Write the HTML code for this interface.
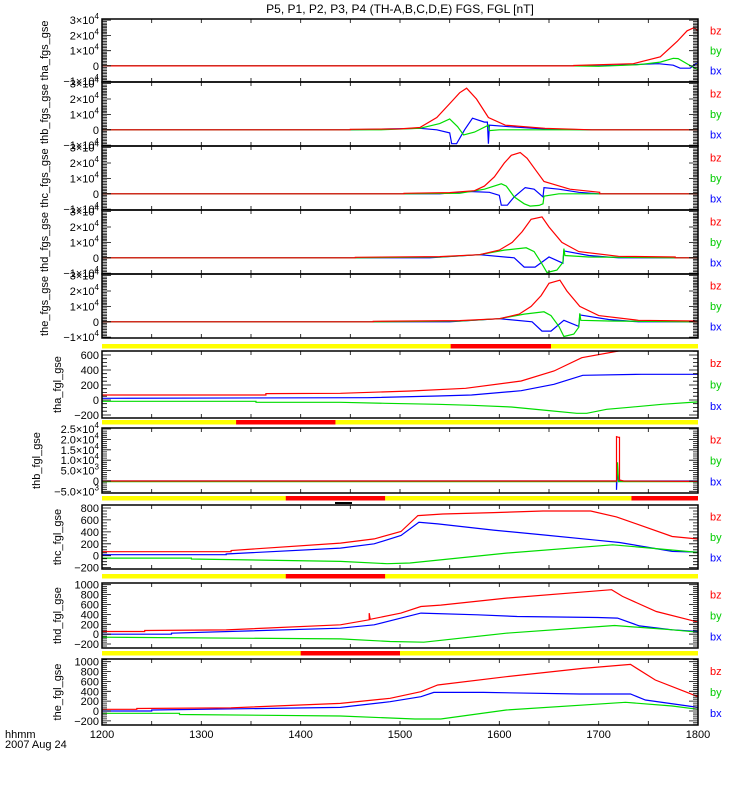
<!DOCTYPE html>
<html><head><meta charset="utf-8"><style>
body{margin:0;background:#fff;}
svg{display:block;font-family:"Liberation Sans",sans-serif;}
</style></head><body>
<svg id="chart" width="750" height="800" viewBox="0 0 750 800" xmlns="http://www.w3.org/2000/svg">
<rect width="750" height="800" fill="#fff"/>
<text x="400" y="13" font-size="12" text-anchor="middle">P5, P1, P2, P3, P4 (TH-A,B,C,D,E) FGS, FGL [nT]</text>
<text x="5" y="738" font-size="11">hhmm</text>
<text x="5" y="748" font-size="11">2007 Aug 24</text>
</svg>
<script>
// x axis
const xTickLabels = [1200, 1300, 1400, 1500, 1600, 1700, 1800];
// FGS panels (values in nT)
const thaFgsBz = [[1200,0],[1675,0],[1675,300],[1735,1500],[1762,6000],[1779,16000],[1789,23000],[1796,25000],[1800,23000]];
const thaFgsBy = [[1200,0],[1675,0],[1700,-200],[1740,800],[1762,2500],[1775,5000],[1780,4800],[1790,1000],[1800,-2500]];
const thaFgsBx = [[1200,0],[1700,0],[1720,500],[1760,1500],[1775,500],[1782,-1500],[1792,-1500],[1800,2500]];
const thbFgsBz = [[1200,0],[1450,0],[1450,300],[1500,600],[1520,1500],[1537,8000],[1553,19000],[1560,24000],[1567,27000],[1577,20000],[1589,8000],[1606,3000],[1646,1000],[1693,0],[1800,0]];
const thbFgsBy = [[1200,0],[1450,0],[1480,0],[1520,1000],[1540,4000],[1550,7000],[1558,2000],[1564,-3300],[1575,-1500],[1589,3000],[1590,-500],[1600,0],[1693,0],[1800,0]];
const thbFgsBx = [[1200,0],[1450,0],[1520,1000],[1537,0],[1550,-2000],[1552,-9000],[1557,-9000],[1565,0],[1573,7500],[1585,5000],[1588,5000],[1589,-9000],[1590,3000],[1610,2000],[1646,500],[1693,0],[1800,0]];
const thcFgsBz = [[1200,0],[1504,0],[1504,300],[1550,800],[1575,2000],[1585,5000],[1595,11000],[1605,20000],[1612,25000],[1621,26800],[1628,23000],[1637,15000],[1645,8000],[1671,3000],[1701,1000],[1701,0],[1800,0]];
const thcFgsBy = [[1200,0],[1504,0],[1560,300],[1585,3000],[1602,6500],[1607,5000],[1615,-2000],[1625,-6500],[1631,-8000],[1640,-7500],[1644,-6500],[1645,-1500],[1660,0],[1746,0],[1800,0]];
const thcFgsBx = [[1200,0],[1540,0],[1570,1500],[1590,1000],[1600,-1000],[1602,-7400],[1608,-7400],[1615,-2000],[1626,4000],[1635,3000],[1644,-2000],[1645,4000],[1660,3000],[1680,1000],[1700,0],[1800,0]];
const thdFgsBz = [[1200,0],[1455,0],[1455,300],[1540,800],[1580,2000],[1600,5000],[1613,10000],[1623,17000],[1632,25000],[1643,26500],[1650,20000],[1663,10000],[1680,4000],[1720,1000],[1777,500],[1777,0],[1800,0]];
const thdFgsBy = [[1200,0],[1455,0],[1540,500],[1580,2000],[1605,5000],[1627,6500],[1635,4000],[1642,-3000],[1648,-9500],[1658,-8000],[1664,-3000],[1665,6000],[1666,1500],[1690,500],[1777,0],[1800,0]];
const thdFgsBx = [[1200,0],[1530,0],[1580,2000],[1615,0],[1625,-6000],[1636,-6000],[1650,500],[1664,-3500],[1665,4500],[1690,1500],[1720,0],[1800,0]];
const theFgsBz = [[1200,0],[1473,0],[1473,300],[1560,800],[1600,2000],[1620,5000],[1632,10000],[1642,17000],[1650,25000],[1661,27000],[1668,20000],[1681,10000],[1700,4000],[1740,1000],[1796,500],[1796,0],[1800,0]];
const theFgsBy = [[1200,0],[1473,0],[1560,500],[1600,2000],[1625,5000],[1645,6500],[1652,4000],[1660,-3000],[1665,-9500],[1675,-8000],[1680,-3500],[1681,5500],[1682,1000],[1710,500],[1790,0],[1800,0]];
const theFgsBx = [[1200,0],[1550,0],[1600,2000],[1633,0],[1643,-6000],[1652,-6000],[1665,1000],[1680,-3000],[1681,4500],[1710,1500],[1740,0],[1800,0]];
// FGL panels
const thaFglBz = [[1200,67],[1365,67],[1365,85],[1440,89],[1511,120],[1566,156],[1622,253],[1655,387],[1683,564],[1720,653]];
const thaFglBy = [[1200,-17],[1355,-17],[1355,-31],[1440,-31],[1485,-44],[1538,-57],[1572,-71],[1612,-93],[1650,-142],[1678,-178],[1688,-178],[1708,-124],[1731,-98],[1764,-57],[1800,-25]];
const thaFglBx = [[1200,22],[1467,31],[1538,53],[1572,67],[1622,124],[1655,209],[1684,329],[1743,342],[1800,342]];
const thbFglBz = [[1200,0],[1718,0],[1718,21300],[1720,21000],[1721,21000],[1721,500],[1725,0],[1800,-200]];
const thbFglBy = [[1200,-300],[1718,-300],[1719,9000],[1720,-300],[1800,-300]];
const thbFglBx = [[1200,0],[1718,0],[1718,-4300],[1719,6000],[1720,0],[1800,0]];
const thcFglBz = [[1200,67],[1330,67],[1330,88],[1440,211],[1474,283],[1501,406],[1518,672],[1543,700],[1594,722],[1644,750],[1692,750],[1718,650],[1741,517],[1774,322],[1800,280]];
const thcFglBy = [[1200,-39],[1290,-39],[1290,-55],[1440,-94],[1487,-133],[1510,-122],[1607,44],[1714,183],[1741,144],[1800,56]];
const thcFglBx = [[1200,17],[1325,17],[1325,30],[1440,128],[1474,200],[1501,339],[1519,561],[1538,533],[1594,430],[1644,350],[1694,267],[1721,222],[1774,72],[1800,61]];
const thdFglBz = [[1200,53],[1243,53],[1243,75],[1325,87],[1440,189],[1469,290],[1469,426],[1470,300],[1501,426],[1521,560],[1541,588],[1607,730],[1713,899],[1724,763],[1758,459],[1800,243]];
const thdFglBy = [[1200,-61],[1440,-95],[1490,-149],[1524,-162],[1607,20],[1716,176],[1774,88],[1800,40]];
const thdFglBx = [[1200,0],[1270,0],[1270,20],[1440,121],[1474,189],[1501,324],[1521,426],[1578,392],[1618,358],[1699,338],[1719,324],[1741,168],[1774,88],[1800,54]];
const theFglBz = [[1200,34],[1235,34],[1235,50],[1330,65],[1440,155],[1490,257],[1521,392],[1538,527],[1607,696],[1684,865],[1732,946],[1757,629],[1800,291]];
const theFglBy = [[1200,-47],[1278,-47],[1278,-70],[1440,-101],[1515,-162],[1541,-162],[1607,20],[1727,176],[1774,101],[1800,34]];
const theFglBx = [[1200,0],[1250,0],[1250,20],[1440,74],[1490,189],[1521,291],[1534,378],[1584,378],[1681,345],[1732,345],[1747,223],[1800,74]];
// tick labels per panel
const fgsTicks = [[30000,"3×10","4"],[20000,"2×10","4"],[10000,"1×10","4"],[0,"0",""],[-10000,"−1×10","4"]];
const fglATicks = [[600,"600",""],[400,"400",""],[200,"200",""],[0,"0",""],[-200,"−200",""]];
const fglBTicks = [[25000,"2.5×10","4"],[20000,"2.0×10","4"],[15000,"1.5×10","4"],[10000,"1.0×10","4"],[5000,"5.0×10","3"],[0,"0",""],[-5000,"−5.0×10","3"]];
const fglCTicks = [[800,"800",""],[600,"600",""],[400,"400",""],[200,"200",""],[0,"0",""],[-200,"−200",""]];
const fglDTicks = [[1000,"1000",""],[800,"800",""],[600,"600",""],[400,"400",""],[200,"200",""],[0,"0",""],[-200,"−200",""]];
// status bars: [start time, end time] of red segments
const bar1Red = [[1551,1652]];
const bar2Red = [[1335,1435]];
const bar3Red = [[1385,1485],[1733,1800]];
const bar4Red = [[1385,1485]];
const bar5Red = [[1400,1500]];

const NS = "http://www.w3.org/2000/svg";
const svg = document.getElementById('chart');
const X0 = 102, X1 = 698;
function xs(t){ return X0 + (t - 1200) / 600 * (X1 - X0); }
function mk(tag, attrs, parent){ const e = document.createElementNS(NS, tag); for (const k in attrs) e.setAttribute(k, attrs[k]); (parent||svg).appendChild(e); return e; }

const panels = [
 {id:'tha-fgs', label:'tha_fgs_gse', lx:48, top:19, bot:82, ymin:-10500, ymax:30700, ticks:fgsTicks, minor:1000, major:10000, bz:thaFgsBz, by:thaFgsBy, bx:thaFgsBx},
 {id:'thb-fgs', label:'thb_fgs_gse', lx:48, top:82, bot:146, ymin:-10500, ymax:31000, ticks:fgsTicks, minor:1000, major:10000, bz:thbFgsBz, by:thbFgsBy, bx:thbFgsBx},
 {id:'thc-fgs', label:'thc_fgs_gse', lx:48, top:146, bot:210, ymin:-10500, ymax:31000, ticks:fgsTicks, minor:1000, major:10000, bz:thcFgsBz, by:thcFgsBy, bx:thcFgsBx},
 {id:'thd-fgs', label:'thd_fgs_gse', lx:48, top:210, bot:274, ymin:-10500, ymax:31000, ticks:fgsTicks, minor:1000, major:10000, bz:thdFgsBz, by:thdFgsBy, bx:thdFgsBx},
 {id:'the-fgs', label:'the_fgs_gse', lx:48, top:274, bot:338, ymin:-10500, ymax:31000, ticks:fgsTicks, minor:1000, major:10000, bz:theFgsBz, by:theFgsBy, bx:theFgsBx},
 {id:'tha-fgl', label:'tha_fgl_gse', lx:61, top:351, bot:418, ymin:-240, ymax:653, ticks:fglATicks, minor:50, major:200, bz:thaFglBz, by:thaFglBy, bx:thaFglBx},
 {id:'thb-fgl', label:'thb_fgl_gse', lx:40, top:428, bot:493, ymin:-5800, ymax:25500, ticks:fglBTicks, minor:1000, major:5000, bz:thbFglBz, by:thbFglBy, bx:thbFglBx},
 {id:'thc-fgl', label:'thc_fgl_gse', lx:61, top:505, bot:569, ymin:-222, ymax:850, ticks:fglCTicks, minor:50, major:200, bz:thcFglBz, by:thcFglBy, bx:thcFglBx},
 {id:'thd-fgl', label:'thd_fgl_gse', lx:61, top:583, bot:648, ymin:-280, ymax:1035, ticks:fglDTicks, minor:40, major:200, bz:thdFglBz, by:thdFglBy, bx:thdFglBx},
 {id:'the-fgl', label:'the_fgl_gse', lx:61, top:659, bot:725, ymin:-284, ymax:1055, ticks:fglDTicks, minor:40, major:200, bz:theFglBz, by:theFglBy, bx:theFglBx}
];

const defs = mk('defs', {});
panels.forEach((p, i) => {
  const ys = v => p.bot - (v - p.ymin) / (p.ymax - p.ymin) * (p.bot - p.top);
  const g = mk('g', {});
  
  
  const cp = mk('clipPath', {id:'clip'+i}, defs);
  mk('rect', {x:X0, y:p.top, width:X1-X0, height:p.bot-p.top}, cp);
  const series = [['bx', '#0000ff', p.bx], ['by', '#00dd00', p.by], ['bz', '#ff0000', p.bz]];
  const sg = mk('g', {'clip-path':'url(#clip'+i+')'}, g);
  series.forEach(s => {
    const pts = s[2].map(d => xs(d[0]).toFixed(1) + ',' + ys(d[1]).toFixed(1)).join(' ');
    const pl = mk('polyline', {points:pts, fill:'none', stroke:s[1], 'stroke-width':1.2}, sg);
    
    
  });
  const fr = mk('rect', {x:X0, y:p.top, width:X1-X0, height:p.bot-p.top, fill:'none', stroke:'#000', 'stroke-width':1.5}, g);
  
  
  let d = '';
  const start = Math.ceil(p.ymin / p.minor) * p.minor;
  for (let v = start; v <= p.ymax; v += p.minor) {
    const y = ys(v).toFixed(1);
    const len = (Math.abs(v % p.major) < 1e-6) ? 9 : 5;
    d += 'M' + X0 + ' ' + y + 'h' + len + 'M' + X1 + ' ' + y + 'h' + (-len);
  }
  for (let t = 1200; t <= 1800; t += 50) {
    const x = xs(t).toFixed(1);
    d += 'M' + x + ' ' + p.top + 'v4M' + x + ' ' + p.bot + 'v-4';
  }
  const tk = mk('path', {d:d, stroke:'#000', 'stroke-width':0.8, fill:'none'}, g);
  
  
  p.ticks.forEach(tkv => {
    const t = mk('text', {x:99, y:(ys(tkv[0]) + 4).toFixed(1), 'font-size':11, 'text-anchor':'end'}, g);
    
    
    t.appendChild(document.createTextNode(tkv[1]));
    if (tkv[2]) { const sp = mk('tspan', {'font-size':8, dy:-5}, t); sp.textContent = tkv[2]; }
  });
  const cy = (p.top + p.bot) / 2;
  const yl = mk('text', {x:p.lx, y:cy, 'font-size':11, 'text-anchor':'middle', transform:'rotate(-90 '+p.lx+' '+cy+')'}, g);
  
  
  yl.textContent = p.label;
  const h = p.bot - p.top;
  [['bz', '#ff0000', 0.18], ['by', '#00cc00', 0.5], ['bx', '#0000ff', 0.82]].forEach(l => {
    const lt = mk('text', {x:710, y:(p.top + h * l[2] + 4).toFixed(1), 'font-size':11, fill:l[1]}, g);
    
    
    lt.textContent = l[0];
  });
});

const bars = [[344, bar1Red], [420, bar2Red], [496, bar3Red], [574, bar4Red], [651, bar5Red]];
bars.forEach((b, i) => {
  const g = mk('g', {});
  
  
  mk('rect', {x:X0, y:b[0], width:X1-X0, height:4.5, fill:'#ffff00'}, g);
  b[1].forEach(r => {
    const rr = mk('rect', {x:xs(r[0]), y:b[0], width:xs(r[1]) - xs(r[0]), height:4.5, fill:'#ff0000'}, g);
    
    
  });
});
const bm = mk('rect', {x:335, y:502, width:17, height:2, fill:'#000'});



xTickLabels.forEach(t => {
  const tx = mk('text', {x:xs(t), y:738, 'font-size':11, 'text-anchor':'middle'});
  
  
  tx.textContent = t;
});
</script>
</body></html>
